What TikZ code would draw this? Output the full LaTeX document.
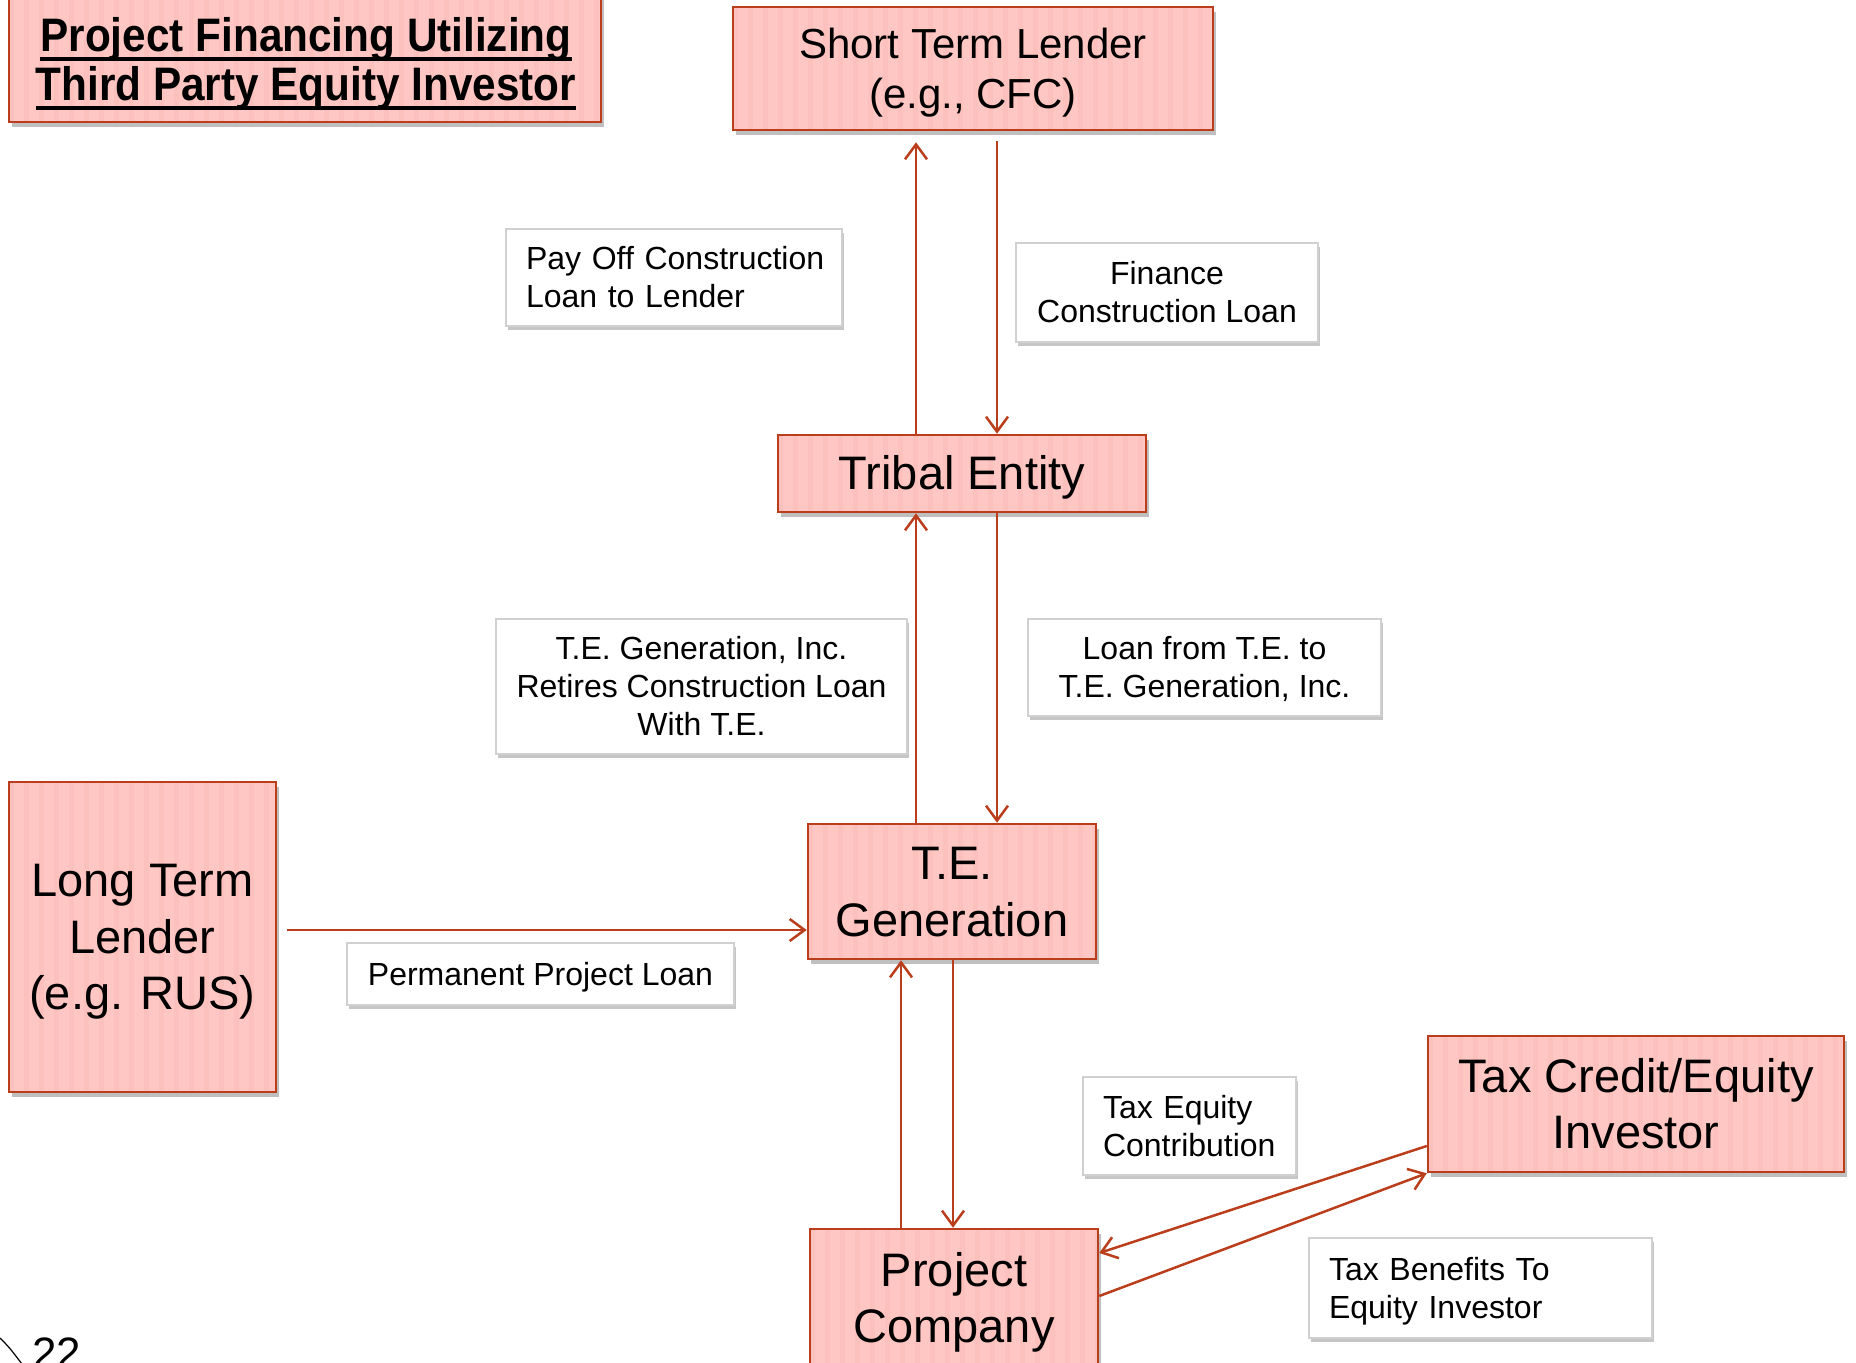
\documentclass[tikz,border=0pt]{standalone}
\usepackage{fontspec}
\setmainfont{Liberation Sans}
\usetikzlibrary{arrows.meta,shadows}
\definecolor{edgec}{RGB}{186,62,28}
\definecolor{pinkfill}{RGB}{255,199,196}
\definecolor{stripec}{RGB}{252,192,189}
\definecolor{lblborder}{RGB}{208,208,208}
\newcommand\myul[1]{\setbox0\hbox{#1}\rlap{\rule[-9pt]{\wd0}{4pt}}\box0}
\newcommand\tops{\rule{0pt}{0.905em}}
\newcommand\bots{\rule[-0.212em]{0pt}{0pt}}
\begin{document}
\begin{tikzpicture}[x=1pt,y=-1pt,
  bigbox/.style={draw=edgec, line width=2.5pt, fill=pinkfill, inner sep=0pt, align=center,
    font=\fontsize{47}{56.5}\selectfont,
    drop shadow={shadow xshift=3pt, shadow yshift=-5pt, fill=black!50, opacity=0.5},
    path picture={\foreach \i in {0,15,...,640} \fill[stripec] ([xshift=\i pt]path picture bounding box.south west) rectangle ++(5pt,420pt);}},
  lbl/.style={draw=lblborder, line width=1.5pt, fill=white, inner xsep=20pt, inner ysep=0pt,
    font=\fontsize{32}{38}\selectfont,
    drop shadow={shadow xshift=2pt, shadow yshift=-4pt, fill=black!50, opacity=0.45}},
  arr/.style={draw=edgec, line width=2.5pt, -{Straight Barb[length=15pt,width=22pt]}}
]
\useasboundingbox (0,0) rectangle (1856,1363);

% title
\node[bigbox, minimum width=592pt, minimum height=130pt] (title) at (305,57) {};
\node[font=\bfseries\fontsize{47}{50}\selectfont, align=center, inner sep=0pt] (titletext) at (306,64)
  {\scalebox{0.9}[1]{\myul{Project Financing Utilizing}}\\[-1pt]\scalebox{0.9}[1]{\myul{Third Party Equity Investor}}};

% main boxes
\node[bigbox, font=\fontsize{42}{50}\selectfont, minimum width=480pt, minimum height=123pt] (stl) at (973,68.5) {\tops Short Term Lender\\(e.g., CFC)\bots};
\node[bigbox, minimum width=368pt, minimum height=77pt] (tribal) at (962,473.5) {\tops Tribal Entity\bots};
\node[bigbox, minimum width=288pt, minimum height=135pt] (teg) at (952,891.5) {\tops T.E.\\Generation\bots};
\node[bigbox, minimum width=267pt, minimum height=310pt] (ltl) at (142.5,937) {\tops Long Term\\Lender\\(e.g. RUS)\bots};
\node[bigbox, minimum width=416pt, minimum height=136pt] (tax) at (1636,1104) {\tops Tax Credit/Equity\\Investor\bots};
\node[bigbox, minimum width=288pt, minimum height=138pt] (proj) at (954,1298) {\tops Project\\Company\bots};

% labels
\node[lbl, text width=296pt, align=left, minimum height=97pt] (lpay) at (674,277.5) {\tops\mbox{Pay Off Construction}\\\mbox{Loan to Lender}\bots};
\node[lbl, align=center, minimum width=302pt, minimum height=99pt] (lfin) at (1167,292.5) {\tops Finance\\Construction Loan\bots};
\node[lbl, align=center, minimum width=411pt, minimum height=135pt] (lret) at (701.5,686.5) {\tops T.E. Generation, Inc.\\Retires Construction Loan\\With T.E.\bots};
\node[lbl, align=center, minimum width=353pt, minimum height=97pt] (lloan) at (1204.5,667.5) {\tops Loan from T.E. to\\T.E. Generation, Inc.\bots};
\node[lbl, align=center, minimum width=387pt, minimum height=62pt] (lperm) at (540.5,974) {\tops Permanent Project Loan\bots};
\node[lbl, text width=173pt, align=left, minimum height=98pt] (lteq) at (1189.5,1126) {\tops\mbox{Tax Equity}\\\mbox{Contribution}\bots};
\node[lbl, text width=303pt, align=left, minimum height=100pt] (lben) at (1480.5,1288) {\tops\mbox{Tax Benefits To}\\\mbox{Equity Investor}\bots};

% guide coordinates
\coordinate (xa) at (916,0);
\coordinate (xb) at (997,0);
\coordinate (xc) at (901,0);
\coordinate (xd) at (953,0);
\coordinate (ya) at (0,930);
\coordinate (yb) at (0,1146);
\coordinate (yc) at (0,1253);
\coordinate (yd) at (0,1296);

% connectors
\draw[arr, shorten >=11pt] (tribal.north -| xa) -- (stl.south -| xa);
\draw[arr, shorten <=10pt] (stl.south -| xb) -- (tribal.north -| xb);
\draw[arr] (teg.north -| xa) -- (tribal.south -| xa);
\draw[arr] (tribal.south -| xb) -- (teg.north -| xb);
\draw[arr] (proj.north -| xc) -- (teg.south -| xc);
\draw[arr] (teg.south -| xd) -- (proj.north -| xd);
\draw[arr, shorten <=10pt] (ltl.east |- ya) -- (teg.west |- ya);
\draw[arr] (tax.west |- yb) -- (proj.east |- yc);
\draw[arr] (proj.east |- yd) -- (tax.south west);

% page number corner
\node[font=\fontsize{44}{44}\selectfont, anchor=base west, inner sep=0pt] (pagenum) at (32,1368) {22};
\draw[line width=1.2pt] (0,1338) .. controls (9,1347) .. (22,1364);
\end{tikzpicture}
\end{document}
